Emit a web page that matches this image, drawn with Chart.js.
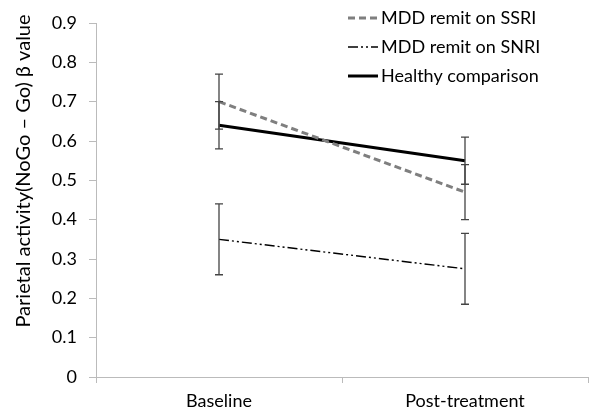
<!DOCTYPE html>
<html>
<head>
<meta charset="utf-8">
<script src="https://cdn.jsdelivr.net/npm/chart.js@4"></script>
<style>
  body { margin: 0; background: #fff; }
  #wrap { width: 591px; height: 413px; }
</style>
</head>
<body>
<div id="wrap"><canvas id="line-chart"></canvas></div>
<script>
var categories = ["Baseline", "Post-treatment"];
var ssri = [0.70, 0.47];
var ssriErr = [0.07, 0.07];
var snri = [0.35, 0.275];
var snriErr = [0.09, 0.09];
var healthy = [0.64, 0.55];
var healthyErr = [0.06, 0.06];
var yTitle = "Parietal activity(NoGo \u2013 Go) \u03b2 value";
var font = "Lato, 'Liberation Sans', sans-serif";

// error bars drawn through the scales
var errorBars = {
  id: "errorBars",
  afterDatasetsDraw: function (chart) {
    var ctx = chart.ctx, x = chart.scales.x, y = chart.scales.y;
    ctx.save();
    ctx.strokeStyle = "#444";
    ctx.lineWidth = 1.3;
    chart.data.datasets.forEach(function (ds) {
      ds.data.forEach(function (v, i) {
        var px = x.getPixelForValue(i);
        var top = y.getPixelForValue(v + ds.err[i]);
        var bot = y.getPixelForValue(v - ds.err[i]);
        ctx.beginPath();
        ctx.moveTo(px, top); ctx.lineTo(px, bot);
        ctx.moveTo(px - 4, top); ctx.lineTo(px + 4, top);
        ctx.moveTo(px - 4, bot); ctx.lineTo(px + 4, bot);
        ctx.stroke();
      });
    });
    ctx.restore();
  }
};

// legend in the top right + y title
var extras = {
  id: "extras",
  afterDraw: function (chart) {
    var ctx = chart.ctx;
    ctx.save();
    ctx.font = "18px " + font;
    ctx.fillStyle = "#000";
    ctx.textBaseline = "middle";
    chart.data.datasets.forEach(function (ds, i) {
      var yy = 18 + i * 29;
      ctx.beginPath();
      ctx.strokeStyle = ds.borderColor;
      ctx.lineWidth = ds.borderWidth;
      ctx.setLineDash(ds.borderDash || []);
      ctx.moveTo(348, yy); ctx.lineTo(378, yy);
      ctx.stroke();
      ctx.fillText(ds.label, 381, yy);
    });
    ctx.setLineDash([]);
    ctx.translate(24, 171);
    ctx.rotate(-Math.PI / 2);
    ctx.textAlign = "center";
    ctx.font = "20px " + font;
    ctx.fillText(yTitle, 0, 0);
    ctx.restore();
  }
};

var ctx = document.getElementById("line-chart").getContext("2d");

var lineChart = new Chart(ctx, {
  type: "line",
  data: {
    labels: categories,
    datasets: [{
        label: "MDD remit on SSRI",
        data: ssri,
        err: ssriErr,
        borderColor: "#7f7f7f",
        borderWidth: 3,
        borderDash: [7, 4]
      }, {
        label: "MDD remit on SNRI",
        data: snri,
        err: snriErr,
        borderColor: "#000",
        borderWidth: 1.4,
        borderDash: [10, 3, 2, 3, 2, 3]
      }, {
        label: "Healthy comparison",
        data: healthy,
        err: healthyErr,
        borderColor: "#000",
        borderWidth: 3
      }
    ]
  },
  options: {
    responsive: true,
    maintainAspectRatio: false,
    animation: false,
    elements: { point: { radius: 0 }, line: { tension: 0 } },
    layout: { padding: { top: 23, right: 3, left: 0, bottom: 0 } },
    plugins: { legend: { display: false }, tooltip: { enabled: false } },
    scales: {
      x: {
        offset: true,
        grid: { offset: true, drawOnChartArea: false, drawTicks: true, tickLength: 6, color: "#bbb" },
        border: { color: "#bbb" },
        ticks: { color: "#000", font: { size: 18, family: font }, padding: 7 },
        afterFit: function (s) { s.height = 36; }
      },
      y: {
        min: 0,
        max: 0.9,
        grid: { drawOnChartArea: false, drawTicks: true, tickLength: 7, color: "#bbb" },
        border: { color: "#bbb" },
        ticks: { stepSize: 0.1, color: "#000", font: { size: 18, family: font }, padding: 12,
          callback: function (v) { return Math.round(v * 10) / 10; } },
        afterFit: function (s) { s.width = 96; }
      }
    }
  },
  plugins: [errorBars, extras]
});
</script>
</body>
</html>
